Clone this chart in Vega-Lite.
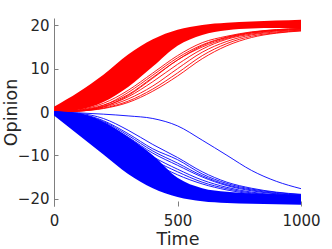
{
  "$schema": "https://vega.github.io/schema/vega-lite/v6.json",
  "width": 247,
  "height": 188,
  "autosize": {"type": "none"},
  "padding": {"left": 54, "top": 18, "right": 31, "bottom": 43},
  "background": "white",
  "config": {
    "font": "DejaVu Sans",
    "view": {"stroke": null},
    "axis": {
      "labelColor": "#262626", "titleColor": "#262626",
      "labelFontSize": 15, "titleFontSize": 17.5, "titleFontWeight": "normal",
      "grid": false, "domainColor": "#7f7f7f", "tickColor": "#7f7f7f",
      "domainWidth": 1, "tickWidth": 1
    }
  },
  "datasets": {
    "band": [
      {"g":"R","t":0,"v":0,"hi":1.2},{"g":"R","t":100,"v":0.5,"hi":4.6},{"g":"R","t":200,"v":2.3,"hi":8.6},{"g":"R","t":300,"v":5.8,"hi":13.3},{"g":"R","t":400,"v":10.5,"hi":16.8},{"g":"R","t":500,"v":15.3,"hi":19.0},{"g":"R","t":600,"v":17.8,"hi":20.1},{"g":"R","t":700,"v":18.9,"hi":20.6},{"g":"R","t":800,"v":19.3,"hi":20.9},{"g":"R","t":900,"v":19.4,"hi":21.1},{"g":"R","t":1000,"v":19.4,"hi":21.3},
      {"g":"B","t":0,"v":-0.8,"hi":0},{"g":"B","t":100,"v":-5.3,"hi":-0.4},{"g":"B","t":200,"v":-9.8,"hi":-2.3},{"g":"B","t":300,"v":-14.3,"hi":-5.8},{"g":"B","t":400,"v":-17.6,"hi":-10},{"g":"B","t":500,"v":-19.6,"hi":-15.2},{"g":"B","t":600,"v":-20.6,"hi":-17.6},{"g":"B","t":700,"v":-21.0,"hi":-18.4},{"g":"B","t":800,"v":-21.2,"hi":-18.8},{"g":"B","t":900,"v":-21.3,"hi":-19.0},{"g":"B","t":1000,"v":-21.4,"hi":-19.1}
    ],
    "lines": [
      {"g":"R","id":"R1","t":0,"v":0},{"g":"R","id":"R1","t":100,"v":0.5},{"g":"R","id":"R1","t":200,"v":2},{"g":"R","id":"R1","t":300,"v":5},{"g":"R","id":"R1","t":400,"v":9},{"g":"R","id":"R1","t":500,"v":13},{"g":"R","id":"R1","t":600,"v":16},{"g":"R","id":"R1","t":700,"v":17.5},{"g":"R","id":"R1","t":800,"v":18.5},{"g":"R","id":"R1","t":900,"v":19},{"g":"R","id":"R1","t":1000,"v":19.3},
      {"g":"R","id":"R2","t":0,"v":0},{"g":"R","id":"R2","t":100,"v":0.4},{"g":"R","id":"R2","t":200,"v":1.6},{"g":"R","id":"R2","t":300,"v":4},{"g":"R","id":"R2","t":400,"v":8},{"g":"R","id":"R2","t":500,"v":12},{"g":"R","id":"R2","t":600,"v":15.3},{"g":"R","id":"R2","t":700,"v":17.2},{"g":"R","id":"R2","t":800,"v":18.3},{"g":"R","id":"R2","t":900,"v":18.9},{"g":"R","id":"R2","t":1000,"v":19.2},
      {"g":"R","id":"R3","t":0,"v":0},{"g":"R","id":"R3","t":100,"v":0.3},{"g":"R","id":"R3","t":200,"v":1.3},{"g":"R","id":"R3","t":300,"v":3.5},{"g":"R","id":"R3","t":400,"v":7},{"g":"R","id":"R3","t":500,"v":11},{"g":"R","id":"R3","t":600,"v":14.5},{"g":"R","id":"R3","t":700,"v":16.8},{"g":"R","id":"R3","t":800,"v":18},{"g":"R","id":"R3","t":900,"v":18.7},{"g":"R","id":"R3","t":1000,"v":19},
      {"g":"R","id":"R4","t":0,"v":0},{"g":"R","id":"R4","t":100,"v":0.3},{"g":"R","id":"R4","t":200,"v":1.1},{"g":"R","id":"R4","t":300,"v":3},{"g":"R","id":"R4","t":400,"v":6},{"g":"R","id":"R4","t":500,"v":10},{"g":"R","id":"R4","t":600,"v":13.8},{"g":"R","id":"R4","t":700,"v":16.3},{"g":"R","id":"R4","t":800,"v":17.8},{"g":"R","id":"R4","t":900,"v":18.5},{"g":"R","id":"R4","t":1000,"v":18.9},
      {"g":"R","id":"R5","t":0,"v":0},{"g":"R","id":"R5","t":100,"v":0.2},{"g":"R","id":"R5","t":200,"v":0.9},{"g":"R","id":"R5","t":300,"v":2.5},{"g":"R","id":"R5","t":400,"v":5.3},{"g":"R","id":"R5","t":500,"v":9},{"g":"R","id":"R5","t":600,"v":13},{"g":"R","id":"R5","t":700,"v":15.8},{"g":"R","id":"R5","t":800,"v":17.5},{"g":"R","id":"R5","t":900,"v":18.3},{"g":"R","id":"R5","t":1000,"v":18.8},
      {"g":"R","id":"R6","t":0,"v":0},{"g":"R","id":"R6","t":100,"v":0.2},{"g":"R","id":"R6","t":200,"v":0.8},{"g":"R","id":"R6","t":300,"v":2.2},{"g":"R","id":"R6","t":400,"v":4.8},{"g":"R","id":"R6","t":500,"v":8.3},{"g":"R","id":"R6","t":600,"v":12.3},{"g":"R","id":"R6","t":700,"v":15.3},{"g":"R","id":"R6","t":800,"v":17.2},{"g":"R","id":"R6","t":900,"v":18.2},{"g":"R","id":"R6","t":1000,"v":18.7},
      {"g":"R","id":"R7","t":0,"v":0},{"g":"R","id":"R7","t":100,"v":0.2},{"g":"R","id":"R7","t":200,"v":1.2},{"g":"R","id":"R7","t":300,"v":3.8},{"g":"R","id":"R7","t":400,"v":7.8},{"g":"R","id":"R7","t":500,"v":12},{"g":"R","id":"R7","t":600,"v":15},{"g":"R","id":"R7","t":700,"v":17},{"g":"R","id":"R7","t":800,"v":18.2},{"g":"R","id":"R7","t":900,"v":18.8},{"g":"R","id":"R7","t":1000,"v":19.1},
      {"g":"R","id":"R8","t":0,"v":0},{"g":"R","id":"R8","t":100,"v":0.3},{"g":"R","id":"R8","t":200,"v":1.5},{"g":"R","id":"R8","t":300,"v":4.5},{"g":"R","id":"R8","t":400,"v":8.5},{"g":"R","id":"R8","t":500,"v":12.5},{"g":"R","id":"R8","t":600,"v":15.5},{"g":"R","id":"R8","t":700,"v":17.3},{"g":"R","id":"R8","t":800,"v":18.4},{"g":"R","id":"R8","t":900,"v":19},{"g":"R","id":"R8","t":1000,"v":19.3},
      {"g":"B","id":"B1","t":0,"v":0},{"g":"B","id":"B1","t":100,"v":-0.4},{"g":"B","id":"B1","t":200,"v":-2},{"g":"B","id":"B1","t":300,"v":-5},{"g":"B","id":"B1","t":400,"v":-8.5},{"g":"B","id":"B1","t":500,"v":-11},{"g":"B","id":"B1","t":600,"v":-14.3},{"g":"B","id":"B1","t":700,"v":-16.5},{"g":"B","id":"B1","t":800,"v":-17.8},{"g":"B","id":"B1","t":900,"v":-18.6},{"g":"B","id":"B1","t":1000,"v":-19.1},
      {"g":"B","id":"B2","t":0,"v":0},{"g":"B","id":"B2","t":100,"v":-0.5},{"g":"B","id":"B2","t":200,"v":-2.4},{"g":"B","id":"B2","t":300,"v":-5.8},{"g":"B","id":"B2","t":400,"v":-9.5},{"g":"B","id":"B2","t":500,"v":-12.3},{"g":"B","id":"B2","t":600,"v":-15},{"g":"B","id":"B2","t":700,"v":-17},{"g":"B","id":"B2","t":800,"v":-18.2},{"g":"B","id":"B2","t":900,"v":-18.9},{"g":"B","id":"B2","t":1000,"v":-19.3},
      {"g":"B","id":"B3","t":0,"v":0},{"g":"B","id":"B3","t":100,"v":-0.6},{"g":"B","id":"B3","t":200,"v":-2.8},{"g":"B","id":"B3","t":300,"v":-6.5},{"g":"B","id":"B3","t":400,"v":-10.3},{"g":"B","id":"B3","t":500,"v":-13.2},{"g":"B","id":"B3","t":600,"v":-15.7},{"g":"B","id":"B3","t":700,"v":-17.4},{"g":"B","id":"B3","t":800,"v":-18.5},{"g":"B","id":"B3","t":900,"v":-19.1},{"g":"B","id":"B3","t":1000,"v":-19.4},
      {"g":"B","id":"B4","t":0,"v":0},{"g":"B","id":"B4","t":100,"v":-0.7},{"g":"B","id":"B4","t":200,"v":-3.2},{"g":"B","id":"B4","t":300,"v":-7.2},{"g":"B","id":"B4","t":400,"v":-11},{"g":"B","id":"B4","t":500,"v":-13.8},{"g":"B","id":"B4","t":600,"v":-16.2},{"g":"B","id":"B4","t":700,"v":-17.7},{"g":"B","id":"B4","t":800,"v":-18.7},{"g":"B","id":"B4","t":900,"v":-19.2},{"g":"B","id":"B4","t":1000,"v":-19.5},
      {"g":"B","id":"B5","t":0,"v":0},{"g":"B","id":"B5","t":100,"v":-0.3},{"g":"B","id":"B5","t":200,"v":-1.5},{"g":"B","id":"B5","t":300,"v":-4.2},{"g":"B","id":"B5","t":400,"v":-7.5},{"g":"B","id":"B5","t":500,"v":-10.5},{"g":"B","id":"B5","t":600,"v":-13.8},{"g":"B","id":"B5","t":700,"v":-16.2},{"g":"B","id":"B5","t":800,"v":-17.6},{"g":"B","id":"B5","t":900,"v":-18.5},{"g":"B","id":"B5","t":1000,"v":-19},
      {"g":"B","id":"B6","t":0,"v":0},{"g":"B","id":"B6","t":100,"v":-0.8},{"g":"B","id":"B6","t":200,"v":-3.6},{"g":"B","id":"B6","t":300,"v":-7.8},{"g":"B","id":"B6","t":400,"v":-11.6},{"g":"B","id":"B6","t":500,"v":-14.5},{"g":"B","id":"B6","t":600,"v":-16.6},{"g":"B","id":"B6","t":700,"v":-18},{"g":"B","id":"B6","t":800,"v":-18.9},{"g":"B","id":"B6","t":900,"v":-19.3},{"g":"B","id":"B6","t":1000,"v":-19.6},
      {"g":"B","id":"B7","t":0,"v":0},{"g":"B","id":"B7","t":100,"v":-0.5},{"g":"B","id":"B7","t":200,"v":-2.2},{"g":"B","id":"B7","t":300,"v":-5.4},{"g":"B","id":"B7","t":400,"v":-9},{"g":"B","id":"B7","t":500,"v":-11.8},{"g":"B","id":"B7","t":600,"v":-14.7},{"g":"B","id":"B7","t":700,"v":-16.8},{"g":"B","id":"B7","t":800,"v":-18},{"g":"B","id":"B7","t":900,"v":-18.8},{"g":"B","id":"B7","t":1000,"v":-19.2},
      {"g":"B","id":"B8","t":0,"v":0},{"g":"B","id":"B8","t":100,"v":-0.2},{"g":"B","id":"B8","t":200,"v":-0.5},{"g":"B","id":"B8","t":300,"v":-0.9},{"g":"B","id":"B8","t":400,"v":-1.5},{"g":"B","id":"B8","t":500,"v":-3.2},{"g":"B","id":"B8","t":600,"v":-6.5},{"g":"B","id":"B8","t":700,"v":-10},{"g":"B","id":"B8","t":800,"v":-13.5},{"g":"B","id":"B8","t":900,"v":-16},{"g":"B","id":"B8","t":1000,"v":-17.7}
    ]
  },
  "encoding": {
    "x": {"field": "t", "type": "quantitative",
      "scale": {"domain": [0, 1000], "nice": false, "zero": false},
      "axis": {"title": "Time", "values": [0, 500, 1000], "format": "d", "domain": false, "tickSize": -5, "labelPadding": 12, "titlePadding": 2, "labelFlush": false}},
    "y": {"field": "v", "type": "quantitative",
      "scale": {"domain": [-21.7, 21.7], "nice": false, "zero": false},
      "axis": {"title": "Opinion", "values": [-20, -10, 0, 10, 20], "tickSize": -4, "labelPadding": 9, "titleX": -34, "titleBaseline": "bottom"}},
    "color": {"field": "g", "type": "nominal", "scale": {"domain": ["R", "B"], "range": ["#ff0000", "#0000ff"]}, "legend": null}
  },
  "layer": [
    {
      "data": {"name": "band"},
      "mark": {"type": "area", "interpolate": "monotone", "opacity": 1},
      "encoding": {"y2": {"field": "hi"}, "detail": {"field": "g"}}
    },
    {
      "data": {"name": "lines"},
      "mark": {"type": "line", "interpolate": "monotone", "strokeWidth": 0.9},
      "encoding": {"detail": {"field": "id"}}
    }
  ]
}
